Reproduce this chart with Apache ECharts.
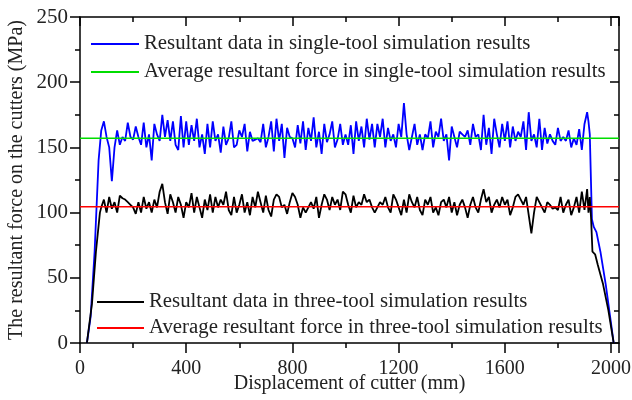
<!DOCTYPE html>
<html><head><meta charset="utf-8">
<script src="https://cdn.jsdelivr.net/npm/echarts@6/dist/echarts.min.js"></script>
<style>html,body{margin:0;padding:0;background:#fff}#c{width:632px;height:400px}</style>
</head><body><div id="c"></div>
<script>
// Single-tool: x positions (mm) and resultant force (MPa)
const singleX = [26,40,55,70,80,90,100,110,120,130,140,150,160,170,180,190,200,210,220,230,240,250,260,270,280,290,300,310,320,330,340,350,360,370,380,390,400,410,420,430,440,450,460,470,480,490,500,510,520,530,540,550,560,570,580,590,600,610,620,630,640,650,660,670,680,690,700,710,720,730,740,750,760,770,780,790,800,810,820,830,840,850,860,870,880,890,900,910,920,930,940,950,960,970,980,990,1000,1010,1020,1030,1040,1050,1060,1070,1080,1090,1100,1110,1120,1130,1140,1150,1160,1170,1180,1190,1200,1210,1220,1230,1240,1250,1260,1270,1280,1290,1300,1310,1320,1330,1340,1350,1360,1370,1380,1390,1400,1410,1420,1430,1440,1450,1460,1470,1480,1490,1500,1510,1520,1530,1540,1550,1560,1570,1580,1590,1600,1610,1620,1630,1640,1650,1660,1670,1680,1690,1700,1710,1720,1730,1740,1750,1760,1770,1780,1790,1800,1810,1820,1830,1840,1850,1860,1870,1880,1890,1900,1910,1915,1920,1928,1935,1945,1960,1980,2000,2010];
const singleY = [0,20,70,140,163,170,158,150,124,150,163,152,158,155,169,158,156,166,158,152,169,150,160,140,168,160,155,175,158,171,155,170,152,148,174,150,170,152,167,155,172,150,160,145,168,150,170,155,160,146,166,152,157,170,150,152,163,158,168,147,162,155,156,157,154,168,150,158,170,147,172,155,168,142,165,158,157,150,167,153,170,148,165,155,173,150,162,145,168,154,160,170,150,156,168,152,160,152,167,145,170,155,166,150,172,156,168,150,168,158,172,150,165,155,160,150,168,158,184,160,148,158,168,152,160,148,160,157,170,150,162,158,172,155,160,140,166,158,150,162,160,158,163,152,168,158,160,148,175,152,165,145,172,160,150,168,155,170,150,166,155,162,158,170,148,177,155,160,150,172,148,165,153,160,155,152,165,155,158,155,163,150,157,152,164,148,168,177,170,160,95,89,85,70,45,15,0];
// Three-tool: x positions (mm) and resultant force (MPa)
const threeX = [26,45,60,75,80,90,100,110,120,130,140,150,160,170,180,190,200,210,220,230,240,250,260,270,280,290,300,310,320,330,340,350,360,370,380,390,400,410,420,430,440,450,460,470,480,490,500,510,520,530,540,550,560,570,580,590,600,610,620,630,640,650,660,670,680,690,700,710,720,730,740,750,760,770,780,790,800,810,820,830,840,850,860,870,880,890,900,910,920,930,940,950,960,970,980,990,1000,1010,1020,1030,1040,1050,1060,1070,1080,1090,1100,1110,1120,1130,1140,1150,1160,1170,1180,1190,1200,1210,1220,1230,1240,1250,1260,1270,1280,1290,1300,1310,1320,1330,1340,1350,1360,1370,1380,1390,1400,1410,1420,1430,1440,1450,1460,1470,1480,1490,1500,1510,1520,1530,1540,1550,1560,1570,1580,1590,1600,1610,1620,1630,1640,1650,1660,1670,1680,1690,1700,1710,1720,1730,1740,1750,1760,1770,1780,1790,1800,1810,1820,1830,1840,1850,1860,1870,1880,1890,1900,1910,1915,1920,1925,1930,1940,1950,1970,1990,2010];
const threeY = [0,30,70,100,104,110,100,112,103,108,100,113,111,110,108,106,104,99,108,100,112,103,108,100,110,104,116,122,108,99,114,108,100,112,106,96,108,104,115,100,112,104,96,110,102,114,100,112,104,110,106,116,102,98,112,100,106,114,100,108,98,112,104,116,108,100,113,102,97,110,114,112,104,106,99,108,115,112,106,96,104,100,104,108,103,112,96,106,114,110,102,112,106,110,102,116,114,106,100,113,104,108,106,114,108,110,104,100,104,108,106,112,104,100,114,110,104,98,110,100,114,108,104,112,102,98,110,106,112,100,104,98,108,110,104,112,100,108,98,106,110,104,96,106,112,104,100,110,118,108,112,100,106,110,104,112,106,110,98,104,112,114,110,106,112,98,84,100,112,108,104,100,108,106,103,104,102,112,100,106,110,98,104,112,100,116,102,118,100,112,95,70,68,60,45,25,0];
const avgSingle = 157;
const avgThree = 104.5;
const xTicks = [0,400,800,1200,1600,2000];
const yTicks = [0,50,100,150,200,250];
const names = ['Resultant data in single-tool simulation results','Average resultant force in single-tool simulation results','Resultant data in three-tool simulation results','Average resultant force in three-tool simulation results'];

const F = 'Liberation Serif, Times New Roman, serif';
const pair = (xs, ys) => xs.map((x, i) => [x, ys[i]]);
const chart = echarts.init(document.getElementById('c'), null, {renderer: 'canvas'});
const axBase = {
  axisLine: {show: true, onZero: false, lineStyle: {color: '#000', width: 1.5}},
  splitLine: {show: false}
};
const legText = {fontFamily: F, fontSize: 20.8, color: '#222', lineHeight: 22};
chart.setOption({
  backgroundColor: '#fff',
  animation: false,
  grid: {left: 80, right: 13, top: 17, bottom: 57, containLabel: false, outerBoundsMode: 'none'},
  legend: [
    {data: [names[0], names[1]], orient: 'vertical', left: 86, top: 28, icon: 'rect', itemWidth: 48, itemHeight: 2, itemGap: 6,
      textStyle: legText, selectedMode: false},
    {data: [names[2], names[3]], orient: 'vertical', left: 92, top: 286, icon: 'rect', itemWidth: 47, itemHeight: 2, itemGap: 4,
      textStyle: legText, selectedMode: false}
  ],
  xAxis: [
    Object.assign({}, axBase, {type: 'value', min: 0, max: 2030, interval: 400,
      name: 'Displacement of cutter (mm)', nameLocation: 'middle', nameGap: 31, nameMoveOverlap: false,
      nameTextStyle: {fontFamily: F, fontSize: 20, color: '#222'},
      axisTick: {show: true, inside: false, length: 10, lineStyle: {color: '#000', width: 1.5}},
      minorTick: {show: true, splitNumber: 2, length: 5, lineStyle: {color: '#000', width: 1.5}},
      axisLabel: {fontFamily: F, fontSize: 20, color: '#222', margin: 16,
        formatter: v => xTicks.includes(v) ? String(v) : ''}}),
    Object.assign({}, axBase, {type: 'value', position: 'top', min: 0, max: 2030, interval: 400,
      axisTick: {show: true, inside: true, length: 9, lineStyle: {color: '#000', width: 1.5}},
      minorTick: {show: true, splitNumber: 2, length: 5, lineStyle: {color: '#000', width: 1.5}},
      axisLabel: {show: false}})
  ],
  yAxis: [
    Object.assign({}, axBase, {type: 'value', min: 0, max: 250, interval: 50,
      name: 'The resultant force on the cutters (MPa)', nameLocation: 'middle', nameGap: 53, nameMoveOverlap: false,
      nameTextStyle: {fontFamily: F, fontSize: 20, color: '#222'},
      axisTick: {show: true, inside: false, length: 10, lineStyle: {color: '#000', width: 1.5}},
      minorTick: {show: true, splitNumber: 2, length: 5, lineStyle: {color: '#000', width: 1.5}},
      axisLabel: {fontFamily: F, fontSize: 21, color: '#222', margin: 12,
        formatter: v => yTicks.includes(v) ? String(v) : ''}}),
    Object.assign({}, axBase, {type: 'value', position: 'right', min: 0, max: 250, interval: 50,
      axisTick: {show: true, inside: true, length: 9, lineStyle: {color: '#000', width: 1.5}},
      minorTick: {show: true, splitNumber: 2, length: 5, lineStyle: {color: '#000', width: 1.5}},
      axisLabel: {show: false}})
  ],
  series: [
    {name: names[0], type: 'line', data: pair(singleX, singleY), symbol: 'none', color: '#0000ff',
      lineStyle: {color: '#0000ff', width: 1.8}, z: 3},
    {name: names[1], type: 'line', data: [[0, avgSingle], [2030, avgSingle]], symbol: 'none', color: '#00dd00',
      lineStyle: {color: '#00dd00', width: 1.5}, z: 4},
    {name: names[2], type: 'line', data: pair(threeX, threeY), symbol: 'none', color: '#000000',
      lineStyle: {color: '#000000', width: 1.8}, z: 3},
    {name: names[3], type: 'line', data: [[0, avgThree], [2030, avgThree]], symbol: 'none', color: '#ff0000',
      lineStyle: {color: '#ff0000', width: 1.5}, z: 4}
  ]
});
</script>
</body></html>
